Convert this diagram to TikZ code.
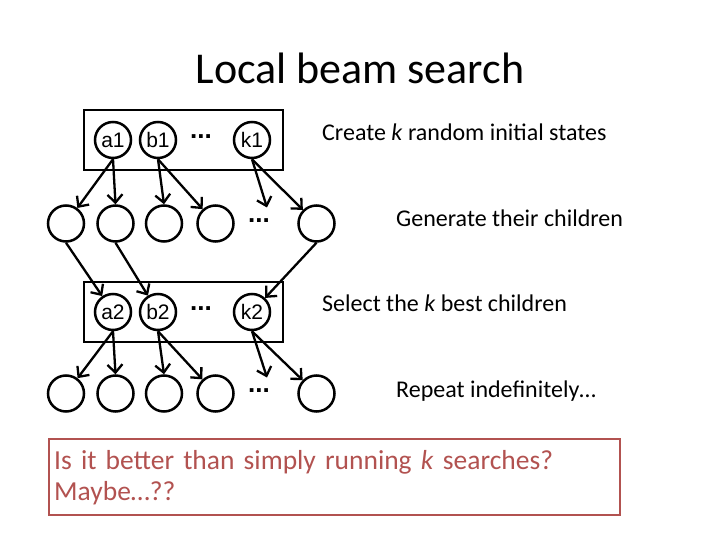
\documentclass[tikz,border=0pt]{standalone}
\usepackage{fontspec}
\setmainfont{Carlito}
\newfontfamily\arialfont{Liberation Sans}
\usetikzlibrary{arrows.meta}

\definecolor{brick}{RGB}{178,82,80}

\tikzset{
	state/.style={circle, draw, line width=2.5pt, minimum size=36pt, inner sep=0pt,
		font=\arialfont\fontsize{21}{21}\selectfont},
	ellip/.style={inner sep=1pt, font=\arialfont\bfseries\fontsize{26}{26}\selectfont},
	beam/.style={draw, line width=2.8pt, minimum width=199pt, minimum height=60pt},
	succ/.style={line width=2.3pt, -{Straight Barb[length=8pt,width=15pt,line width=2.3pt]}},
	note/.style={anchor=base west, inner sep=0pt, font=\fontsize{24}{28}\selectfont},
}

\begin{document}
\begin{tikzpicture}[x=1pt, y=-1pt]

\useasboundingbox (0,0) rectangle (720,540);

\node (title) at (360,68) {\fontsize{44}{50}\selectfont Local beam search};

\foreach \r/\py/\cy in {1/140/223.5, 2/312/393.5}{
	% the k states kept
	\node[beam] (pop\r) at (183.5,\py) {};
	\node[state] (a\r) at (113,\py) {a\r};
	\node[state] (b\r) at (158,\py) {b\r};
	\node[ellip] (pd\r) at (201,\py-3) {...};
	\node[state] (k\r) at (252,\py) {k\r};
	% their children
	\foreach[count=\i] \x in {66,115.5,164,215.5}{
		\node[state] (c\r\i) at (\x,\cy) {};
	}
	\node[ellip] (cd\r) at (259,\cy-3) {...};
	\node[state] (c\r5) at (316.5,\cy) {};
	\coordinate (tip\r) at (267,\cy-16);
	\draw[succ] (a\r.south) -- (c\r1);
	\draw[succ] (a\r.south) -- (c\r2.north);
	\draw[succ] (b\r.south) -- (c\r3.north);
	\draw[succ] (b\r.south) -- (c\r4);
	\draw[succ] (k\r.south) -- (tip\r);
	\draw[succ] (k\r.south) -- (c\r5);
}

% the k best go on
\draw[succ] (c11.south) -- (a2);
\draw[succ] (c12.south) -- (b2);
\draw[succ] (c15.south) -- (k2);

\node[note] (n1) at (322,141) {Create \textit{k} random initial states};
\node[note] (n2) at (396,226) {Generate their children};
\node[note] (n3) at (322,311) {Select the \textit{k} best children};
\node[note] (n4) at (396,397) {Repeat indefinitely…};

\node[draw=brick, line width=2.4pt, text=brick, align=left, anchor=north west,
	text width=561pt, minimum height=76pt, inner sep=5pt,
	font=\fontsize{27.5}{31}\selectfont] (q) at (48,438)
	{Is it better than simply running \textit{k} searches?\\Maybe…??};

\end{tikzpicture}
\end{document}
